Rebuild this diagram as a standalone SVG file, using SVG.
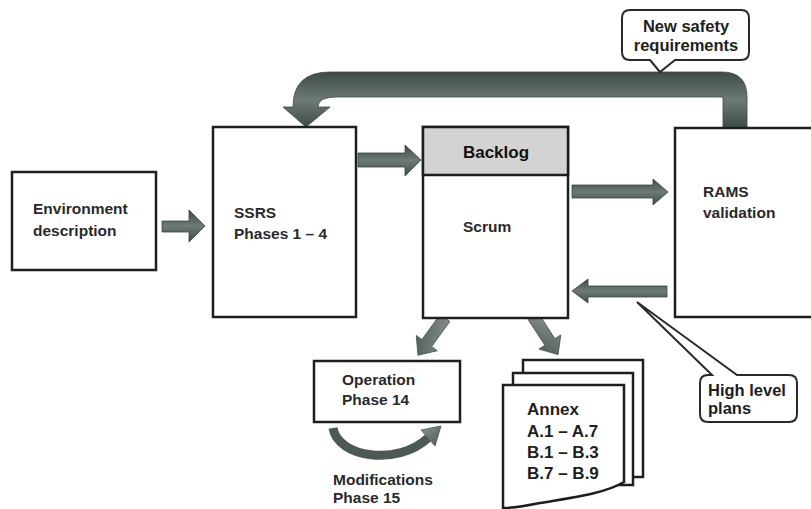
<svg xmlns="http://www.w3.org/2000/svg" width="811" height="509" viewBox="0 0 811 509">
<defs>
<linearGradient id="gh" x1="0" y1="0" x2="0" y2="1">
<stop offset="0" stop-color="#3e4b45"/><stop offset="0.5" stop-color="#6e7b74"/><stop offset="1" stop-color="#3e4b45"/>
</linearGradient>
<linearGradient id="gd" x1="0" y1="0" x2="1" y2="1">
<stop offset="0" stop-color="#8e9893"/><stop offset="1" stop-color="#4a5650"/>
</linearGradient>
</defs>
<style>
.box{fill:#fff;stroke:#1e1e1e;stroke-width:2.5}
.call{fill:#fff;stroke:#2a2a2a;stroke-width:2}
.t{font-family:"Liberation Sans",Arial,sans-serif;font-weight:bold;font-size:15.5px;fill:#2a2a2a}
.tb{font-family:"Liberation Sans",Arial,sans-serif;font-weight:bold;font-size:16.5px;fill:#1e1e1e}
.arr{fill:url(#gh);stroke:#3a4640;stroke-width:0.8}
.darr{fill:url(#gd);stroke:#4a5650;stroke-width:0.8}
</style>
<rect width="811" height="509" fill="#fff"/>

<g id="connectors">
<path class="arr" d="M747 128 L747 97 Q747 72 722 72 L330 72 Q293 72 293 107 L283 107 L306 127 L330 107 L318 107 Q318 97 336 97 L723 97 L723 128 Z"/>
<path class="arr" d="M162 221 L189 221 L189 210 L205 226 L189 242 L189 232 L162 232 Z"/>
<path class="arr" d="M358 153 L405 153 L405 145 L421 160 L405 176 L405 167 L358 167 Z"/>
<path class="arr" d="M572 185 L653 185 L653 179 L668 192 L653 205 L653 198 L572 198 Z"/>
<path class="arr" d="M667 286 L588 286 L588 279 L572 291 L588 303 L588 297 L667 297 Z"/>
<path class="darr" transform="translate(445,318) rotate(126)" d="M0 -6 L31 -6 L31 -13 L46 0 L31 13 L31 6 L0 6 Z"/>
<path class="darr" transform="translate(533,316) rotate(57)" d="M0 -6 L31 -6 L31 -13 L46 0 L31 13 L31 6 L0 6 Z"/>
<path d="M333 428 C338 458 398 466 428 438" fill="none" stroke="#4d5a53" stroke-width="9"/>
<path class="darr" d="M421 430 L441 426 L435 446 Z"/>
</g>

<g id="environment">
<rect class="box" x="12" y="172" width="144" height="98"/>
<text class="t" x="33" y="214">Environment</text>
<text class="t" x="33" y="236">description</text>
</g>

<g id="ssrs">
<rect class="box" x="213" y="127" width="143" height="190"/>
<text class="t" x="234" y="218">SSRS</text>
<text class="t" x="234" y="239">Phases 1 – 4</text>
</g>

<g id="scrum">
<rect class="box" x="423" y="127" width="145" height="191"/>
<rect x="423" y="127" width="145" height="48" fill="#d3d3d3" stroke="#1e1e1e" stroke-width="2.5"/>
<text x="496" y="158" text-anchor="middle" style="font-family:'Liberation Sans',Arial,sans-serif;font-weight:bold;font-size:17px;fill:#111">Backlog</text>
<text class="t" x="463" y="232">Scrum</text>
</g>

<g id="rams">
<rect class="box" x="675" y="128" width="150" height="189"/>
<text class="t" x="703" y="197">RAMS</text>
<text class="t" x="703" y="218">validation</text>
</g>

<g id="operation">
<rect class="box" x="314" y="361" width="146" height="61"/>
<text class="t" x="342" y="385">Operation</text>
<text class="t" x="342" y="405">Phase 14</text>
</g>

<g id="modifications">
<text class="t" x="333" y="485">Modifications</text>
<text class="t" x="333" y="503">Phase 15</text>
</g>

<g id="annex">
<rect class="box" x="523" y="360" width="120" height="117"/>
<rect class="box" x="513" y="373" width="120" height="112"/>
<path class="box" d="M503 385 L624 385 L624 482 C604 494 570 498 540 503 C525 506 512 508 503 508 Z"/>
<text x="527" y="415" style="font-family:'Liberation Sans',Arial,sans-serif;font-weight:bold;font-size:17px;fill:#1e1e1e">Annex</text>
<text x="527" y="437" style="font-family:'Liberation Sans',Arial,sans-serif;font-weight:bold;font-size:17px;fill:#1e1e1e">A.1 – A.7</text>
<text x="527" y="458" style="font-family:'Liberation Sans',Arial,sans-serif;font-weight:bold;font-size:17px;fill:#1e1e1e">B.1 – B.3</text>
<text x="527" y="479" style="font-family:'Liberation Sans',Arial,sans-serif;font-weight:bold;font-size:17px;fill:#1e1e1e">B.7 – B.9</text>
</g>

<g id="new-safety">
<path class="call" d="M650 60 L660 72 L675 60 L741 60 Q749 60 749 52 L749 18 Q749 10 741 10 L630 10 Q622 10 622 18 L622 52 Q622 60 630 60 Z"/>
<text class="tb" x="686" y="32" text-anchor="middle">New safety</text>
<text class="tb" x="686" y="51" text-anchor="middle">requirements</text>
</g>

<g id="high-level">
<path class="call" d="M712 375 L637 302 L737 375 L789 375 Q797 375 797 383 L797 414 Q797 422 789 422 L708 422 Q700 422 700 414 L700 383 Q700 375 708 375 Z"/>
<text class="tb" x="708" y="396">High level</text>
<text class="tb" x="708" y="414">plans</text>
</g>
</svg>
